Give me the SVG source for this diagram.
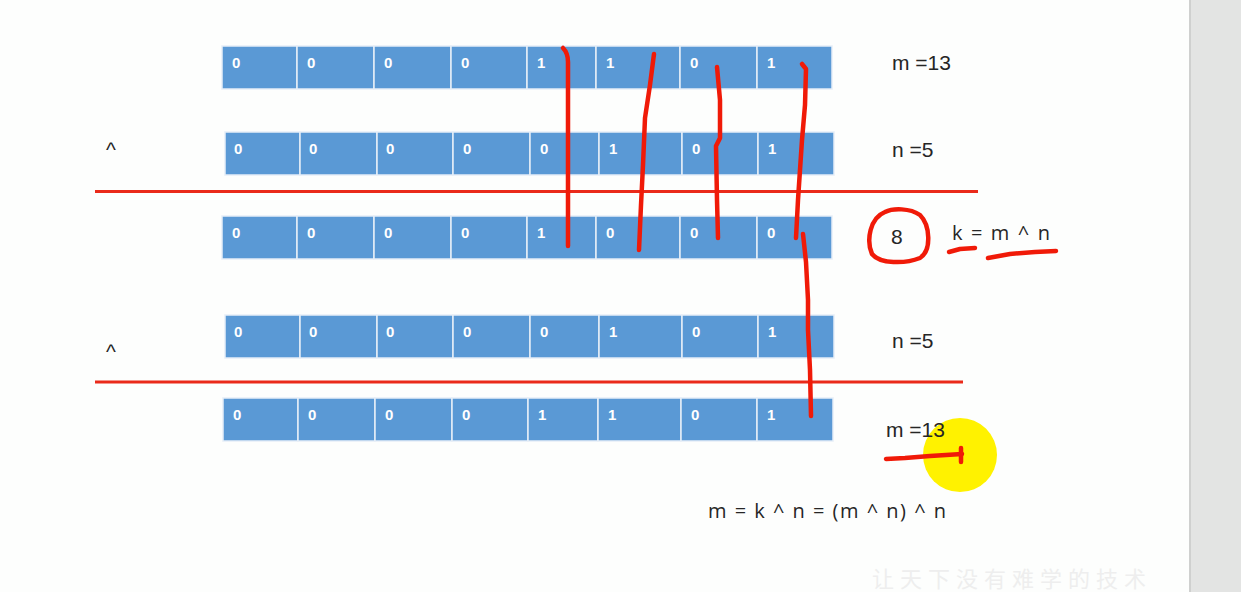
<svg xmlns="http://www.w3.org/2000/svg" width="1241" height="592" viewBox="0 0 1241 592">
<style>
.cell{fill:#5a99d5;stroke:#e6eef7;stroke-width:1.5}
.d{font-family:"Liberation Sans",Arial,sans-serif;font-weight:bold;font-size:15px;fill:#ffffff}
.lbl{font-family:"Liberation Sans",Arial,sans-serif;font-size:21px;fill:#262626}
.f{font-family:"Open Sans","Liberation Sans",sans-serif;font-size:20px;fill:#262626}
.rl{stroke:#ea2a1a;stroke-width:3;fill:none}
.pen{stroke:#f01a08;stroke-width:4.5;fill:none;stroke-linecap:round;stroke-linejoin:round}
</style>
<rect x="0" y="0" width="1241" height="592" fill="#fdfefd"/>
<text x="872" y="587" font-family="'Noto Sans CJK SC',sans-serif" font-size="22" fill="#eeeeee" letter-spacing="6">让天下没有难学的技术</text>
<rect x="1189" y="0" width="52" height="592" fill="#e3e4e3"/>
<rect x="1189" y="0" width="2" height="592" fill="#cfd0cf"/>

<g id="row-m">
<rect class="cell" x="222" y="46" width="75" height="43"/><rect class="cell" x="297" y="46" width="77" height="43"/><rect class="cell" x="374" y="46" width="77" height="43"/><rect class="cell" x="451" y="46" width="76" height="43"/><rect class="cell" x="527" y="46" width="69" height="43"/><rect class="cell" x="596" y="46" width="84" height="43"/><rect class="cell" x="680" y="46" width="77" height="43"/><rect class="cell" x="757" y="46" width="75" height="43"/>
<text class="d" x="232" y="68">0</text><text class="d" x="307" y="68">0</text><text class="d" x="384" y="68">0</text><text class="d" x="461" y="68">0</text><text class="d" x="537" y="68">1</text><text class="d" x="606" y="68">1</text><text class="d" x="690" y="68">0</text><text class="d" x="767" y="68">1</text>
</g>
<g id="row-n1">
<rect class="cell" x="225" y="132" width="75" height="43"/><rect class="cell" x="300" y="132" width="77" height="43"/><rect class="cell" x="377" y="132" width="76" height="43"/><rect class="cell" x="453" y="132" width="77" height="43"/><rect class="cell" x="530" y="132" width="69" height="43"/><rect class="cell" x="599" y="132" width="83" height="43"/><rect class="cell" x="682" y="132" width="76" height="43"/><rect class="cell" x="758" y="132" width="76" height="43"/>
<text class="d" x="234" y="154">0</text><text class="d" x="309" y="154">0</text><text class="d" x="386" y="154">0</text><text class="d" x="463" y="154">0</text><text class="d" x="540" y="154">0</text><text class="d" x="609" y="154">1</text><text class="d" x="692" y="154">0</text><text class="d" x="768" y="154">1</text>
</g>
<g id="row-k">
<rect class="cell" x="222" y="216" width="75" height="43"/><rect class="cell" x="297" y="216" width="77" height="43"/><rect class="cell" x="374" y="216" width="77" height="43"/><rect class="cell" x="451" y="216" width="76" height="43"/><rect class="cell" x="527" y="216" width="69" height="43"/><rect class="cell" x="596" y="216" width="84" height="43"/><rect class="cell" x="680" y="216" width="77" height="43"/><rect class="cell" x="757" y="216" width="75" height="43"/>
<text class="d" x="232" y="238">0</text><text class="d" x="307" y="238">0</text><text class="d" x="384" y="238">0</text><text class="d" x="461" y="238">0</text><text class="d" x="537" y="238">1</text><text class="d" x="606" y="238">0</text><text class="d" x="690" y="238">0</text><text class="d" x="767" y="238">0</text>
</g>
<g id="row-n2">
<rect class="cell" x="225" y="315" width="75" height="43"/><rect class="cell" x="300" y="315" width="77" height="43"/><rect class="cell" x="377" y="315" width="76" height="43"/><rect class="cell" x="453" y="315" width="77" height="43"/><rect class="cell" x="530" y="315" width="69" height="43"/><rect class="cell" x="599" y="315" width="83" height="43"/><rect class="cell" x="682" y="315" width="76" height="43"/><rect class="cell" x="758" y="315" width="76" height="43"/>
<text class="d" x="234" y="337">0</text><text class="d" x="309" y="337">0</text><text class="d" x="386" y="337">0</text><text class="d" x="463" y="337">0</text><text class="d" x="540" y="337">0</text><text class="d" x="609" y="337">1</text><text class="d" x="692" y="337">0</text><text class="d" x="768" y="337">1</text>
</g>
<g id="row-m2">
<rect class="cell" x="223" y="398" width="75" height="43"/><rect class="cell" x="298" y="398" width="77" height="43"/><rect class="cell" x="375" y="398" width="77" height="43"/><rect class="cell" x="452" y="398" width="76" height="43"/><rect class="cell" x="528" y="398" width="70" height="43"/><rect class="cell" x="598" y="398" width="83" height="43"/><rect class="cell" x="681" y="398" width="76" height="43"/><rect class="cell" x="757" y="398" width="76" height="43"/>
<text class="d" x="233" y="420">0</text><text class="d" x="308" y="420">0</text><text class="d" x="385" y="420">0</text><text class="d" x="462" y="420">0</text><text class="d" x="538" y="420">1</text><text class="d" x="608" y="420">1</text><text class="d" x="691" y="420">0</text><text class="d" x="767" y="420">1</text>
</g>

<g id="labels">
<text class="lbl" x="106" y="157">^</text>
<text class="lbl" x="106" y="359">^</text>
<text class="lbl" x="892" y="70">m =13</text>
<text class="lbl" x="892" y="157">n =5</text>
<text class="lbl" x="891" y="244">8</text>
<text class="f" x="952" y="240" textLength="98" lengthAdjust="spacing">k = m ^ n</text>
<text class="lbl" x="892" y="348">n =5</text>
</g>

<circle cx="960" cy="455" r="37" fill="#fff200"/>
<g id="label-m2"><text class="lbl" x="886" y="437">m =13</text></g>
<g id="formula"><text class="f" x="708" y="518" textLength="238" lengthAdjust="spacing">m = k ^ n = (m ^ n) ^ n</text></g>

<g id="connectors">
<line class="rl" x1="95" y1="191.5" x2="978" y2="191.5"/>
<line class="rl" x1="95" y1="382" x2="963" y2="382"/>
<path class="pen" d="M563,48 Q568,53 568,62 L568,246"/>
<path class="pen" d="M654,54 L650,85 L645,118 L643,165 L641,205 L639,250"/>
<path class="pen" d="M717,67 L720,100 L720,138 L716,146 L717,200 L718,238"/>
<path class="pen" d="M802,64 L806,69 L805,105 L802,140 L798,200 L796,238"/>
<path class="pen" d="M803,234 L806,262 L808,300 L808,330 L810,370 L811,416"/>
<path class="pen" d="M885,212 C870,218 866,240 872,254 C880,264 905,264 920,258 C932,250 930,225 920,215 C910,208 893,208 885,212 Z"/>
<path class="pen" d="M949,252 L960,249 L975,248"/>
<path class="pen" d="M988,258 L1010,254 L1035,252 L1056,251"/>
<path class="pen" d="M886,459 L905,458 L930,456 L962,454"/>
<path class="pen" stroke-width="2.5" d="M961,448 L961,462"/>
</g>
</svg>
